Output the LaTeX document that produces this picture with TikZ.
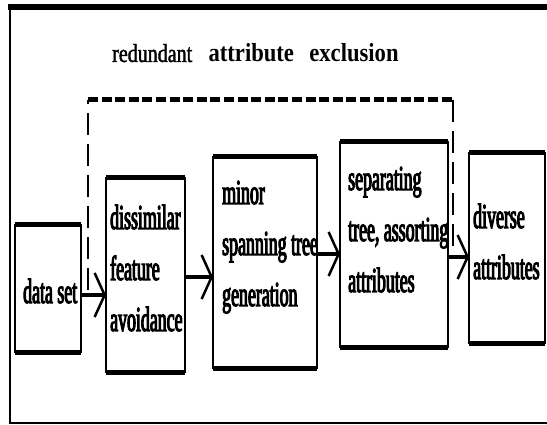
\documentclass[tikz,border=0pt]{standalone}
\usepackage{fontspec}
\usetikzlibrary{arrows.meta}
\newfontfamily\boxfont[FakeStretch=0.51,FakeBold=3]{Liberation Serif}
\newfontfamily\titleregfont[FakeStretch=0.77,FakeBold=1.5]{Liberation Serif}
\newfontfamily\titleboldfont[FakeStretch=0.87]{Liberation Serif}
\newcommand{\lines}[1]{\begin{tabular}[t]{@{}l@{}}#1\end{tabular}}
\begin{document}
\begin{tikzpicture}[x=1pt,y=-1pt,
  box/.style={draw, line width=2.5pt, inner sep=0pt, outer sep=0pt},
  edge/.style={line width=5pt},
  lbl/.style={inner sep=0pt, anchor=base west, font=\boxfont\fontsize{35}{51}\selectfont},
  arr/.style={line width=4.5pt, -{Straight Barb[length=10pt, width=44pt, line width=2.5pt]}},
  vdash/.style={line width=2pt, dash pattern=on 22pt off 9pt},
  hdash/.style={line width=5pt, dash pattern=on 10pt off 3.6pt}]
\useasboundingbox (0,0) rectangle (547,425);
% outer frame
\coordinate (ftl) at (10,7);
\coordinate (ftr) at (547,7);
\coordinate (fbl) at (10,423);
\coordinate (fbr) at (547,423);
\draw[line width=6pt] ([xshift=-2pt]ftl) -- (ftr);
\draw[line width=2.5pt] ([yshift=-3pt]ftl) -- (fbl) -- (fbr);
% title
\node[inner sep=0pt, anchor=base west, font=\fontsize{26}{30}\selectfont] (title) at (112,62)
  {{\titleregfont redundant}\hspace{8.5pt} {\titleboldfont\bfseries attribute}\hspace{7.5pt} {\titleboldfont\bfseries exclusion}};
% boxes
\node[box, minimum width=66pt, minimum height=127pt] (b1) at (48,288.5) {};
\node[box, minimum width=79pt, minimum height=194pt] (b2) at (145.5,275) {};
\node[box, minimum width=104pt, minimum height=211pt] (b3) at (265,262.5) {};
\node[box, minimum width=108pt, minimum height=205pt] (b4) at (394,244.5) {};
\node[box, minimum width=76pt, minimum height=190pt] (b5) at (507,248) {};
\foreach \n in {b1,b2,b3,b4,b5}{
  \draw[edge] (\n.north west) -- (\n.north east);
  \draw[edge] (\n.south west) -- (\n.south east);
}
% texts
\node[lbl] (t1) at (23,303) {\lines{data set}};
\node[lbl] (t2) at (110,229) {\lines{dissimilar\\feature\\avoidance}};
\node[lbl] (t3) at (222,204) {\lines{minor\\spanning tree\\generation}};
\node[lbl] (t4) at (348,190) {\lines{separating\\tree, assorting\\attributes}};
\node[lbl] (t5) at (473,228) {\lines{diverse\\attributes}};
% arrows
\draw[arr] (b1.east |- 0,295) -- (b2.west |- 0,295);
\draw[arr] (b2.east |- 0,277) -- (b3.west |- 0,277);
\draw[arr] (b3.east |- 0,254) -- (b4.west |- 0,254);
\draw[arr] (b4.east |- 0,257) -- (b5.west |- 0,257);
% dashed bypass
\coordinate (dl) at (88,290);
\coordinate (dtl) at (88,100);
\coordinate (dtr) at (453,100);
\coordinate (dr) at (453,250);
\draw[vdash] (dl) -- (dtl);
\draw[hdash] (dtl) -- (dtr);
\draw[vdash] (dtr) -- (dr);
\end{tikzpicture}
\end{document}
